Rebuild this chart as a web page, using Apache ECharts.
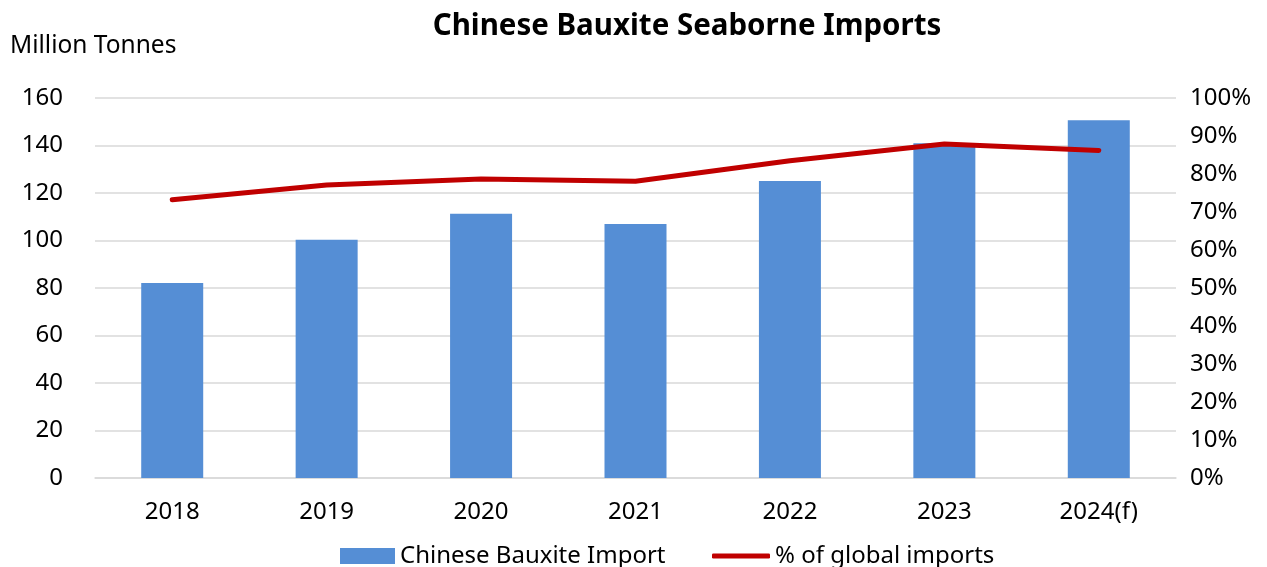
<!DOCTYPE html>
<html>
<head>
<meta charset="utf-8">
<script src="https://cdn.jsdelivr.net/npm/echarts@6/dist/echarts.min.js"></script>
<style>html,body{margin:0;padding:0;background:#fff}#c{width:1267px;height:567px}</style>
</head>
<body>
<div id="c"></div>
<script>
const categories = ['2018','2019','2020','2021','2022','2023','2024(f)'];
const importValues = [82.1, 100.3, 111.3, 107.0, 125.1, 140.9, 150.6];
const globalShare = [0.732, 0.771, 0.787, 0.781, 0.835, 0.879, 0.862];
const leftTicks = {min: 0, max: 160, interval: 20};
const rightTicks = {min: 0, max: 1, interval: 0.1};

const FONT = '"Noto Sans", "Open Sans", sans-serif';
const chart = echarts.init(document.getElementById('c'), null, {renderer: 'canvas'});
chart.setOption({
  animation: false,
  backgroundColor: '#ffffff',
  title: {
    text: 'Chinese Bauxite Seaborne Imports',
    left: 682, top: 7,
    textAlign: 'center',
    textStyle: {fontFamily: FONT, fontSize: 29.5, fontWeight: 'bold', color: '#000'}
  },
  grid: {left: 95, right: 91, top: 98, bottom: 89, containLabel: false},
  legend: [
    {
      top: 539, left: 335,
      itemWidth: 55, itemHeight: 16, itemGap: 0,
      textStyle: {fontFamily: FONT, fontSize: 24, color: '#000'},
      data: [{name: 'Chinese Bauxite Import', icon: 'rect'}]
    },
    {
      top: 539, left: 707,
      itemWidth: 58, itemHeight: 5, itemGap: 0,
      textStyle: {fontFamily: FONT, fontSize: 24, color: '#000'},
      data: [{name: '% of global imports', icon: 'roundRect', itemStyle: {color: '#C00000'}}]
    }
  ],
  xAxis: {
    type: 'category',
    data: categories,
    axisTick: {show: false},
    axisLine: {lineStyle: {color: '#d9d9d9', width: 1.5}},
    axisLabel: {fontFamily: FONT, fontSize: 24, color: '#000', margin: 22}
  },
  yAxis: [
    {
      type: 'value', min: leftTicks.min, max: leftTicks.max, interval: leftTicks.interval,
      name: 'Million Tonnes', nameLocation: 'end', nameGap: 39,
      nameTextStyle: {fontFamily: FONT, fontSize: 24.5, color: '#000', align: 'left', padding: [0,0,0,-85]},
      axisLine: {show: false}, axisTick: {show: false},
      axisLabel: {fontFamily: FONT, fontSize: 24, color: '#000', margin: 32},
      splitLine: {lineStyle: {color: '#d9d9d9', width: 1.5}}
    },
    {
      type: 'value', min: rightTicks.min, max: rightTicks.max, interval: rightTicks.interval,
      axisLine: {show: false}, axisTick: {show: false},
      axisLabel: {fontFamily: FONT, fontSize: 24, color: '#000', margin: 14,
        formatter: v => Math.round(v * 100) + '%'},
      splitLine: {show: false}
    }
  ],
  series: [
    {
      name: 'Chinese Bauxite Import', type: 'bar', data: importValues,
      barWidth: 62, itemStyle: {color: '#558ED5'}, yAxisIndex: 0
    },
    {
      name: '% of global imports', type: 'line', data: globalShare, yAxisIndex: 1,
      symbol: 'none', lineStyle: {color: '#C00000', width: 5, cap: 'round'},
      itemStyle: {color: '#C00000'}
    }
  ]
});
</script>
</body>
</html>
